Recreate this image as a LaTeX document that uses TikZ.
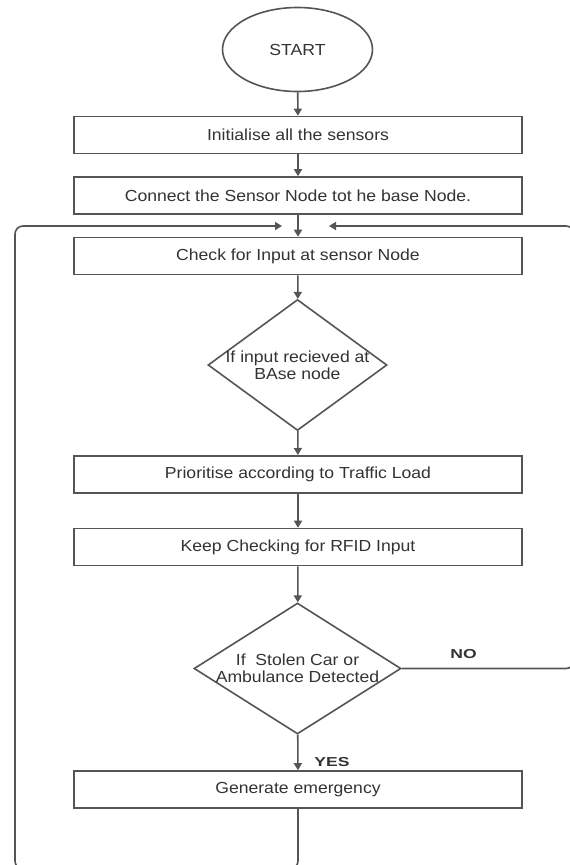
\documentclass[tikz,border=0pt]{standalone}
\usepackage{fontspec}
\setmainfont{Liberation Sans}[FakeStretch=1.1]
\newfontfamily\lblfont{Liberation Sans}[FakeStretch=1.35]
\usetikzlibrary{shapes.geometric,arrows.meta}
\definecolor{ln}{HTML}{555555}
\definecolor{tx}{HTML}{333333}
\begin{document}
\begin{tikzpicture}[x=1pt,y=-1pt,
  every node/.style={font=\fontsize{16}{17}\selectfont, text=tx},
  procbox/.style={draw=ln, line width=1.6pt, rectangle, minimum width=448pt, minimum height=37pt, inner sep=0pt},
  startshape/.style={draw=ln, line width=1.6pt, ellipse, minimum width=150pt, minimum height=84pt, inner sep=0pt},
  decshape/.style={draw=ln, line width=1.6pt, diamond, inner sep=0pt},
  conn/.style={draw=ln, line width=1.6pt, -{Triangle[width=8pt,length=7pt]}},
  loopline/.style={draw=ln, line width=1.6pt, rounded corners=8pt, -{Triangle[width=8pt,length=7pt]}},
  lbl/.style={font=\lblfont\bfseries\fontsize{13}{14}\selectfont, text=tx}]
\clip (0,0) rectangle (570,865);
\fill[white] (0,0) rectangle (570,865);

\node[startshape] (start) at (297.5,49.5) {START};
\node[procbox] (b1) at (298,135) {Initialise all the sensors};
\node[procbox] (b2) at (298,195.5) {Connect the Sensor Node tot he base Node.};
\node[procbox] (b3) at (298,256) {Check for Input at sensor Node};
\node[decshape, minimum width=179pt, minimum height=131pt,
      label={[name=d1t, align=center]center:If input recieved at\\BAse node}] (d1) at (297.5,365) {};
\node[procbox] (b4) at (298,474.3) {Prioritise according to Traffic Load};
\node[procbox] (b5) at (298,547) {Keep Checking for RFID Input};
\node[decshape, minimum width=207pt, minimum height=131pt,
      label={[name=d2t, align=center]center:If\ \ Stolen Car or\\Ambulance Detected}] (d2) at (297.5,668.5) {};
\node[procbox] (b6) at (298,789.5) {Generate emergency};

\node[lbl] (no) at (463.5,654) {NO};
\node[lbl] (yes) at (332,762.5) {YES};

\coordinate (la) at (282,226);
\coordinate (ra) at (329,226);

\draw[conn] (start) -- (b1);
\draw[conn] (b1) -- (b2);
\draw[conn] (b2) -- (b3);
\draw[conn] (b3) -- (d1);
\draw[conn] (d1) -- (b4);
\draw[conn] (b4) -- (b5);
\draw[conn] (b5) -- (d2);
\draw[conn] (d2) -- (b6);

\draw[loopline] (b6.south) -- (298,869) -- (15,869) -- (15,226) -- (la);
\draw[loopline] (d2.east) -- (574,668.5) -- (574,226) -- (ra);
\end{tikzpicture}
\end{document}
